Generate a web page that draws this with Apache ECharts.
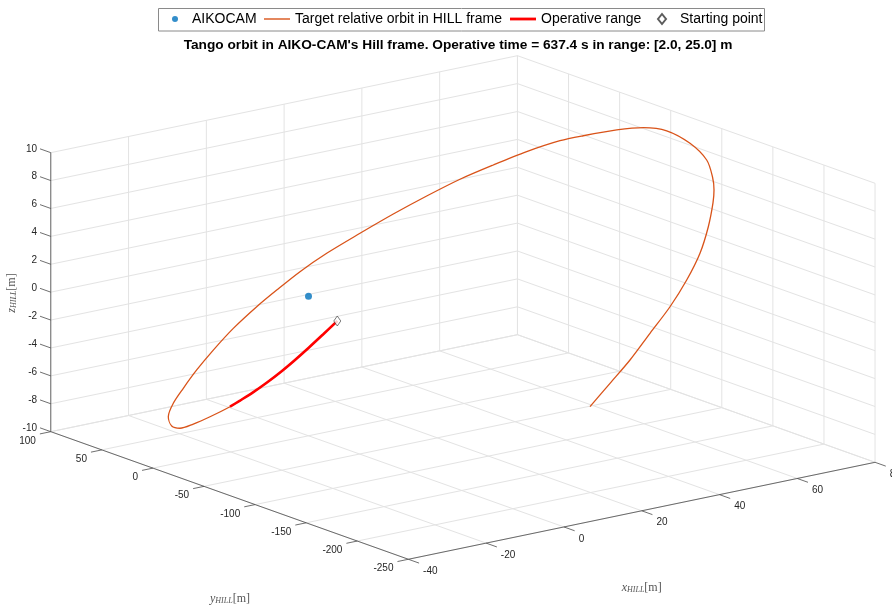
<!DOCTYPE html>
<html>
<head>
<meta charset="utf-8">
<script src="https://cdn.jsdelivr.net/npm/echarts@6/dist/echarts.min.js"></script>
<style>html,body{margin:0;padding:0;background:#fff}#c{width:892px;height:606px}</style>
</head>
<body>
<div id="c"></div>
<script>
// ---------------- data ----------------
const xTicks = [-40, -20, 0, 20, 40, 60, 80];
const yTicks = [-250, -200, -150, -100, -50, 0, 50, 100];
const zTicks = [-10, -8, -6, -4, -2, 0, 2, 4, 6, 8, 10];

// AIKOCAM (chaser) at Hill frame origin
const aikocam = [0, 0, 0];

// Target relative orbit samples in Hill frame [m]
const orbitX = [6.14,3.60,1.05,-1.63,-4.44,-7.26,-10.20,-13.02,-15.40,-19.02,-22.00,-24.24,-24.93,-24.23,-21.63,-18.27,-14.30,-10.03,-5.28,-0.18,3.78,8.19,12.96,18.76,24.43,30.13,35.94,41.87,47.96,54.03,58.18,64.28,69.28,72.93,76.03,77.17,76.04,74.32,72.22,68.13,63.10,56.79,49.61,41.31,33.28,25.25,17.21];
const orbitY = [-4.8,-0.5,3.5,7.0,10.0,13.0,15.5,17.5,18.2,24.0,29.0,33.5,39.0,45.0,50.0,53.0,55.0,55.0,53.5,50.0,45.5,39.5,31.5,21.0,10.0,-1.0,-11.5,-21.5,-31.0,-40.5,-47.5,-57.0,-64.0,-73.0,-84.0,-96.0,-106.0,-114.0,-121.0,-132.0,-143.0,-154.0,-165.0,-177.0,-188.0,-199.0,-210.0];
const orbitZ = [-2.00,-2.93,-3.82,-4.65,-5.41,-6.10,-6.70,-7.18,-7.50,-8.16,-8.64,-8.93,-8.87,-8.40,-7.72,-6.92,-5.89,-4.71,-3.39,-2.04,-0.96,0.26,1.51,2.88,4.22,5.47,6.61,7.55,8.40,9.08,9.38,9.69,9.75,9.55,8.76,7.81,6.92,6.29,5.67,4.49,3.17,1.90,0.69,-0.42,-1.58,-2.50,-3.42];
// number of leading samples inside the operative range [2, 25] m
const operativeSamples = 9;

const titleText = "Tango orbit in AIKO-CAM's Hill frame. Operative time = 637.4 s in range: [2.0, 25.0] m";

// ---------------- 3D view (orthographic) ----------------
const lim = { x: [-40, 80], y: [-250, 100], z: [-10, 10] };
const view = { ox: 308.5, oy: 296.3, ex: [3.889, -0.808], ey: [-1.0217, -0.3646], ez: [0, -13.95] };
function proj(x, y, z) {
  return [view.ox + view.ex[0] * x + view.ey[0] * y + view.ez[0] * z,
          view.oy + view.ex[1] * x + view.ey[1] * y + view.ez[1] * z];
}
function seg(a, b) { const p = proj(a[0], a[1], a[2]), q = proj(b[0], b[1], b[2]); return [p[0], p[1], q[0], q[1]]; }

// grid planes: back wall y=ymax, side wall x=xmax, floor z=zmin
const gridSegs = [];
xTicks.forEach(x => gridSegs.push(seg([x, lim.y[1], lim.z[0]], [x, lim.y[1], lim.z[1]])));
zTicks.forEach(z => gridSegs.push(seg([lim.x[0], lim.y[1], z], [lim.x[1], lim.y[1], z])));
yTicks.forEach(y => gridSegs.push(seg([lim.x[1], y, lim.z[0]], [lim.x[1], y, lim.z[1]])));
zTicks.forEach(z => gridSegs.push(seg([lim.x[1], lim.y[0], z], [lim.x[1], lim.y[1], z])));
xTicks.forEach(x => gridSegs.push(seg([x, lim.y[0], lim.z[0]], [x, lim.y[1], lim.z[0]])));
yTicks.forEach(y => gridSegs.push(seg([lim.x[0], y, lim.z[0]], [lim.x[1], y, lim.z[0]])));

// axis lines + ticks
const axisSegs = [
  seg([lim.x[0], lim.y[1], lim.z[0]], [lim.x[0], lim.y[1], lim.z[1]]),
  seg([lim.x[0], lim.y[0], lim.z[0]], [lim.x[0], lim.y[1], lim.z[0]]),
  seg([lim.x[0], lim.y[0], lim.z[0]], [lim.x[1], lim.y[0], lim.z[0]])
];
const zTickEnds = [], yTickEnds = [], xTickEnds = [];
zTicks.forEach(z => { const s = seg([lim.x[0], lim.y[1], z], [lim.x[0], lim.y[1] + 10.5, z]); axisSegs.push(s); zTickEnds.push([s[2] - 3, s[3]]); });
yTicks.forEach(y => { const s = seg([lim.x[0], y, lim.z[0]], [lim.x[0] - 2.8, y, lim.z[0]]); axisSegs.push(s); yTickEnds.push([s[2] - 4, s[3] + 7]); });
xTicks.forEach(x => { const s = seg([x, lim.y[0], lim.z[0]], [x, lim.y[0] - 10.5, lim.z[0]]); axisSegs.push(s); xTickEnds.push([s[2] + 4, s[3] + 8]); });

const orbitPts = orbitX.map((x, i) => proj(x, orbitY[i], orbitZ[i]));
const operativePts = orbitPts.slice(0, operativeSamples);
const startPt = [orbitPts[0]];
const aikoPt = [proj(aikocam[0], aikocam[1], aikocam[2])];

// ---------------- chart ----------------
const FONT = "'Liberation Sans', Arial, Helvetica, sans-serif";
function segSeries(name, segs, color, width, z) {
  return {
    type: 'custom', name: name, silent: true, z: z, data: segs,
    dimensions: ['x1', 'y1', 'x2', 'y2'], encode: { x: [0, 2], y: [1, 3] },
    renderItem: function (params, api) {
      const p = api.coord([api.value(0), api.value(1)]);
      const q = api.coord([api.value(2), api.value(3)]);
      return { type: 'line', shape: { x1: p[0], y1: p[1], x2: q[0], y2: q[1] }, style: { stroke: color, lineWidth: width } };
    }
  };
}
function textSeries(name, pts, labels, align) {
  return {
    type: 'custom', name: name, silent: true, z: 3, data: pts,
    dimensions: ['x', 'y'], encode: { x: 0, y: 1 },
    renderItem: function (params, api) {
      const p = api.coord([api.value(0), api.value(1)]);
      return { type: 'text', x: p[0], y: p[1], style: { text: String(labels[params.dataIndex]), fill: '#262626', font: '10px ' + FONT, align: align, verticalAlign: 'middle' } };
    }
  };
}
function axisName(letter, x, y, rot) {
  const serif = '"Liberation Serif", "DejaVu Serif", serif';
  return { type: 'text', x: x, y: y, rotation: rot || 0, style: { text: '{i|' + letter + '}{s|HILL}{n|[m]}', align: 'center', verticalAlign: 'middle', fill: '#555',
    rich: { i: { font: 'italic 12px ' + serif, fill: '#555', verticalAlign: 'bottom' },
            s: { font: 'italic 8px ' + serif, fill: '#555', verticalAlign: 'bottom' },
            n: { font: '12px ' + serif, fill: '#555', verticalAlign: 'bottom' } } } };
}

const chart = echarts.init(document.getElementById('c'), null, { renderer: 'canvas' });
const legendText = { fontFamily: FONT, fontSize: 14, color: '#000' };
chart.setOption({
  animation: false,
  backgroundColor: '#fff',
  grid: { left: 0, right: 0, top: 0, bottom: 0 },
  xAxis: { type: 'value', min: 0, max: 892, show: false },
  yAxis: { type: 'value', min: 0, max: 606, inverse: true, show: false },
  legend: [
    { data: [{ name: 'AIKOCAM', icon: 'circle' }], left: 172, top: 12, padding: 0, itemWidth: 6, itemHeight: 6, selectedMode: false, textStyle: Object.assign({ padding: [0, 0, 0, 9] }, legendText) },
    { data: [{ name: 'Target relative orbit in HILL frame', icon: 'rect' }], left: 264, top: 12, padding: 0, itemWidth: 26, itemHeight: 1.4, selectedMode: false, textStyle: legendText },
    { data: [{ name: 'Operative range', icon: 'rect' }], left: 510, top: 12, padding: 0, itemWidth: 26, itemHeight: 2.8, selectedMode: false, textStyle: legendText },
    { data: [{ name: 'Starting point', icon: 'diamond' }], left: 657, top: 12, padding: 0, itemWidth: 8, itemHeight: 10, selectedMode: false, textStyle: Object.assign({ padding: [0, 0, 0, 9] }, legendText) }
  ],
  graphic: [
    { type: 'rect', shape: { x: 158.5, y: 8.5, width: 606, height: 22.5 }, style: { fill: 'none', stroke: '#8a8a8a', lineWidth: 1 }, z: 0 },
    { type: 'text', x: 458, y: 45, style: { text: titleText, font: 'bold 13.7px ' + FONT, fill: '#000', align: 'center', verticalAlign: 'middle' } },
    axisName('z', 11.7, 293, Math.PI / 2),
    axisName('y', 230, 599),
    axisName('x', 641.7, 587.7)
  ],
  series: [
    segSeries('grid', gridSegs, '#e3e3e3', 1, 1),
    segSeries('axes', axisSegs, '#4a4a4a', 0.8, 2),
    textSeries('zlabels', zTickEnds, zTicks, 'right'),
    textSeries('ylabels', yTickEnds, yTicks, 'right'),
    textSeries('xlabels', xTickEnds, xTicks, 'left'),
    { type: 'scatter', name: 'AIKOCAM', data: aikoPt, symbol: 'circle', symbolSize: 7, itemStyle: { color: '#0072BD' }, z: 5, silent: true },
    { type: 'line', name: 'Target relative orbit in HILL frame', data: orbitPts, symbol: 'none', smooth: 0.3, lineStyle: { color: '#D95319', width: 1.3 }, itemStyle: { color: '#D95319' }, z: 4, silent: true },
    { type: 'line', name: 'Operative range', data: operativePts, symbol: 'none', smooth: 0.3, lineStyle: { color: '#FF0000', width: 2.6 }, itemStyle: { color: '#FF0000' }, z: 5, silent: true },
    { type: 'scatter', name: 'Starting point', data: startPt, symbol: 'diamond', symbolSize: [7, 10], itemStyle: { color: '#ffffff', borderColor: '#333333', borderWidth: 0.8 }, z: 6, silent: true }
  ]
});
</script>
</body>
</html>
